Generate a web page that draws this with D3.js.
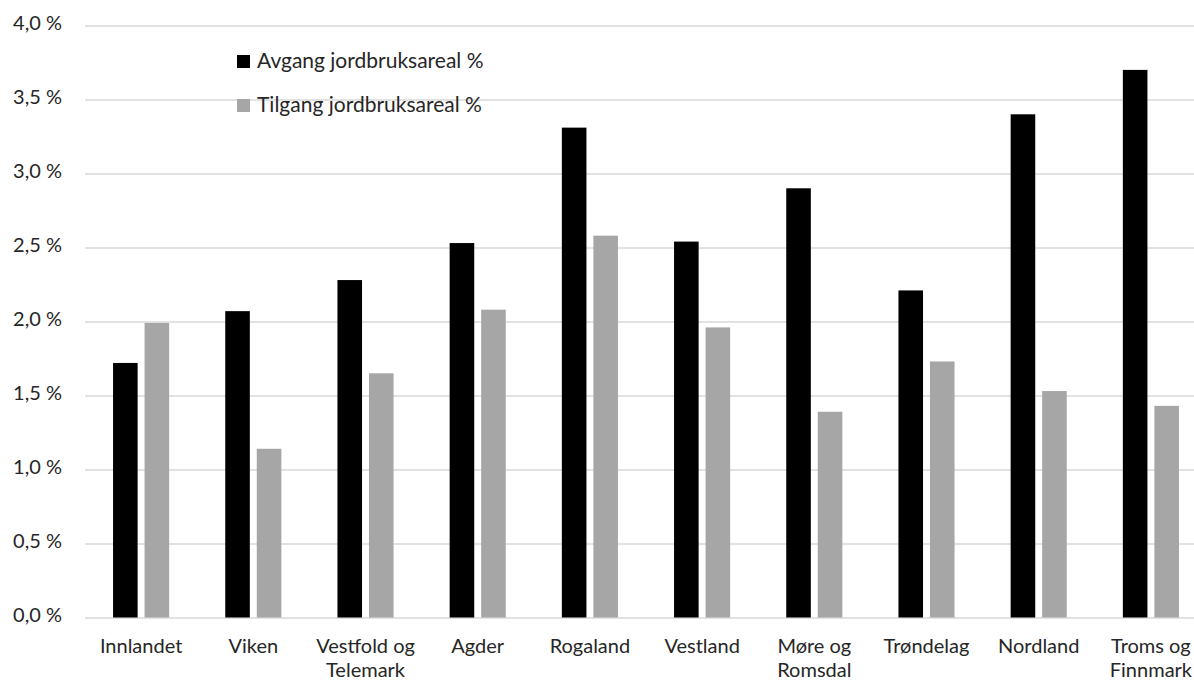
<!DOCTYPE html>
<html>
<head>
<meta charset="utf-8">
<script src="https://cdn.jsdelivr.net/npm/d3@7"></script>
<style>
  html, body { margin: 0; padding: 0; background: #fff; overflow: hidden; }
  text { font-family: Lato, "Open Sans", sans-serif; fill: #262626; }
</style>
</head>
<body>
<svg id="chart" width="1194" height="682"></svg>
<script>
const categories = ["Innlandet", "Viken", "Vestfold og Telemark", "Agder", "Rogaland", "Vestland", "Møre og Romsdal", "Trøndelag", "Nordland", "Troms og Finnmark"];
const categoryLines = [["Innlandet"], ["Viken"], ["Vestfold og", "Telemark"], ["Agder"], ["Rogaland"], ["Vestland"], ["Møre og", "Romsdal"], ["Trøndelag"], ["Nordland"], ["Troms og", "Finnmark"]];
const seriesNames = ["Avgang jordbruksareal %", "Tilgang jordbruksareal %"];
const avgang = [1.72, 2.07, 2.28, 2.53, 3.31, 2.54, 2.90, 2.21, 3.40, 3.70];
const tilgang = [1.99, 1.14, 1.65, 2.08, 2.58, 1.96, 1.39, 1.73, 1.53, 1.43];
const yTicks = [0, 0.5, 1.0, 1.5, 2.0, 2.5, 3.0, 3.5, 4.0];
const seriesColors = ["#000000", "#a6a6a6"];

const svg = d3.select("#chart");
const m = { left: 85, top: 25.5, bottom: 617.5, right: 1207 };
const fs = 20;
const textColor = "#262626";
const font = "Lato, 'Open Sans', sans-serif";

const x = d3.scaleBand().domain(categories).range([m.left, m.right]).paddingInner(0.5).paddingOuter(0.25);
const x1 = d3.scaleBand().domain(seriesNames).range([0, x.bandwidth()]).paddingInner(0.22);
const y = d3.scaleLinear().domain([0, 4]).range([m.bottom, m.top]);

const fmt = v => d3.format(".1f")(v).replace(".", ",") + " %";

// gridlines
const yAxis = d3.axisLeft(y).tickValues(yTicks).tickSize(-(m.right - m.left)).tickFormat(fmt).tickPadding(23);
const gy = svg.append("g").attr("transform", `translate(${m.left},0)`).call(yAxis);
gy.select(".domain").remove();
gy.selectAll(".tick line").attr("stroke", "#d9d9d9").attr("stroke-width", 1.5);
gy.selectAll(".tick text").attr("font-size", fs).attr("fill", textColor).attr("dy", "0.2em").style("font-family", font);

// bars
const groups = svg.append("g").selectAll("g").data(categories).join("g")
  .attr("transform", d => `translate(${x(d)},0)`);
const data = [avgang, tilgang];
groups.selectAll("rect").data((d, i) => seriesNames.map((s, k) => ({ s, v: data[k][i], k })))
  .join("rect")
  .attr("x", d => x1(d.s))
  .attr("width", x1.bandwidth())
  .attr("y", d => y(d.v))
  .attr("height", d => y(0) - y(d.v))
  .attr("fill", d => seriesColors[d.k]);

// x axis labels
const xAxis = d3.axisBottom(x).tickSize(0).tickPadding(0).tickFormat("");
const gx = svg.append("g").attr("transform", `translate(0,${m.bottom})`).call(xAxis);
gx.select(".domain").remove();
gx.selectAll(".tick").each(function(d, i) {
  const g = d3.select(this);
  categoryLines[i].forEach((line, j) => {
    g.append("text")
      .attr("text-anchor", "middle")
      .attr("font-size", fs)
      .attr("fill", textColor)
      .style("font-family", font)
      .attr("x", 0)
      .attr("y", 35 + j * 24)
      .text(line);
  });
});

// legend
const legend = svg.append("g").attr("transform", "translate(237,0)");
seriesNames.forEach((s, k) => {
  const yy = 61 + k * 44;
  legend.append("rect").attr("x", 0).attr("y", yy - 6).attr("width", 13).attr("height", 13).attr("fill", seriesColors[k]);
  legend.append("text").attr("x", 20).attr("y", yy + 7).attr("font-size", 21).attr("fill", textColor).style("font-family", font).text(s);
});
</script>
</body>
</html>
